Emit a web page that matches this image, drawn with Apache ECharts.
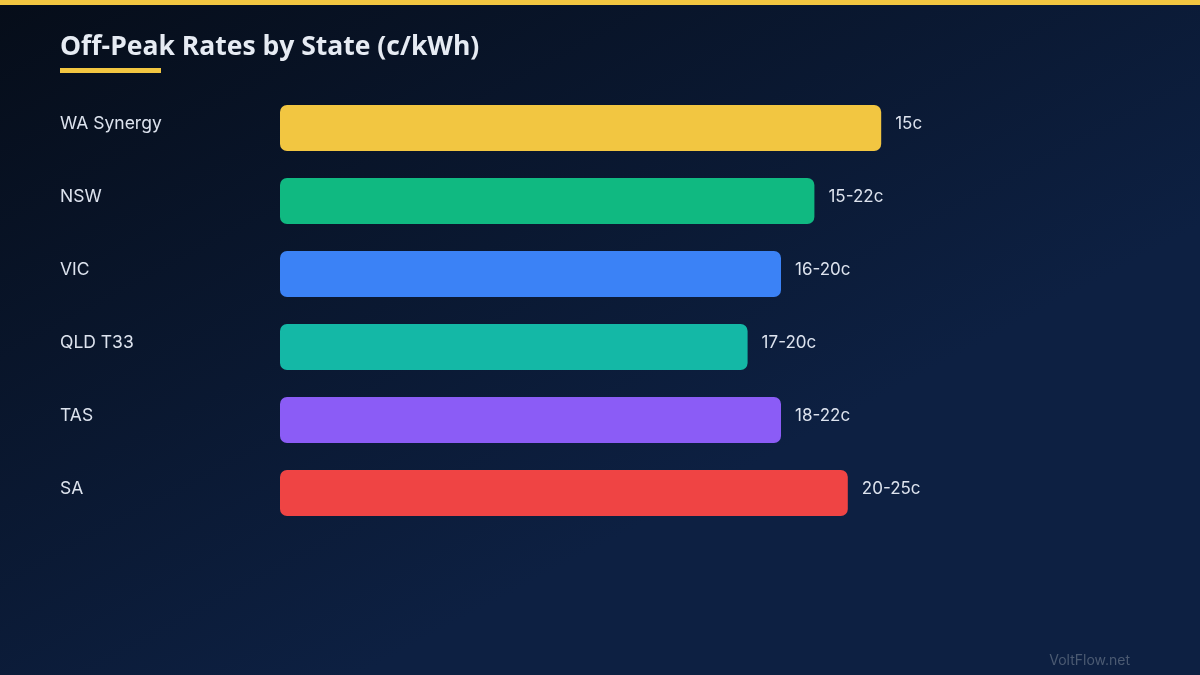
<!DOCTYPE html>
<html>
<head>
<meta charset="utf-8">
<script src="https://cdn.jsdelivr.net/npm/echarts@6/dist/echarts.min.js"></script>
<style>
html,body{margin:0;padding:0;width:1200px;height:675px;overflow:hidden;background:#08101f;}
#chart{width:1200px;height:675px;}
</style>
</head>
<body>
<div id="chart"></div>
<script>
var categories = ['WA Synergy', 'NSW', 'VIC', 'QLD T33', 'TAS', 'SA'];
var barValues = [90, 80, 75, 70, 75, 85];
var rateLabels = ['15c', '15-22c', '16-20c', '17-20c', '18-22c', '20-25c'];
var barColors = ['#f2c641', '#10b981', '#3b82f6', '#14b8a6', '#8b5cf6', '#ef4444'];

var chart = echarts.init(document.getElementById('chart'));
chart.setOption({
  backgroundColor: new echarts.graphic.LinearGradient(0, 0, 0.3, 1, [
    {offset: 0, color: '#060d19'},
    {offset: 1, color: '#0d2042'}
  ]),
  animation: false,
  title: {
    text: 'Off-Peak Rates by State (c/kWh)',
    left: 60, top: 34, padding: 0,
    textStyle: {color: '#e6ebf3', fontSize: 26.5, fontWeight: 'bold', fontFamily: 'Open Sans'}
  },
  graphic: [
    {type: 'rect', left: 0, top: 0, shape: {width: 1200, height: 5}, style: {fill: '#f2c641'}},
    {type: 'rect', left: 60, top: 68, shape: {width: 101, height: 5}, style: {fill: '#f2c641'}},
    {type: 'text', right: 70, top: 654, style: {text: 'VoltFlow.net', fill: '#4b5a72', fontSize: 14, fontFamily: 'Inter'}}
  ],
  grid: {left: 280, right: 252, top: 91.5, height: 438, containLabel: false},
  xAxis: {type: 'value', min: 0, max: 100, show: false},
  yAxis: {
    type: 'category', data: categories, inverse: true,
    axisLine: {show: false}, axisTick: {show: false},
    axisLabel: {
      align: 'left', margin: 220,
      formatter: function (v) { return '{a|' + v + '}'; },
      rich: {a: {color: '#dde3ee', fontSize: 17.5, fontFamily: 'Inter', padding: [0, 0, 8, 0]}}
    }
  },
  series: [{
    type: 'bar',
    data: barValues.map(function (v, i) {
      return {value: v, itemStyle: {color: barColors[i]}};
    }),
    barWidth: 46,
    itemStyle: {borderRadius: 7},
    label: {
      show: true, position: 'right', distance: 14, offset: [0, -4],
      color: '#dde3ee', fontSize: 17, fontFamily: 'Inter',
      formatter: function (p) { return rateLabels[p.dataIndex]; }
    }
  }]
});
</script>
</body>
</html>
